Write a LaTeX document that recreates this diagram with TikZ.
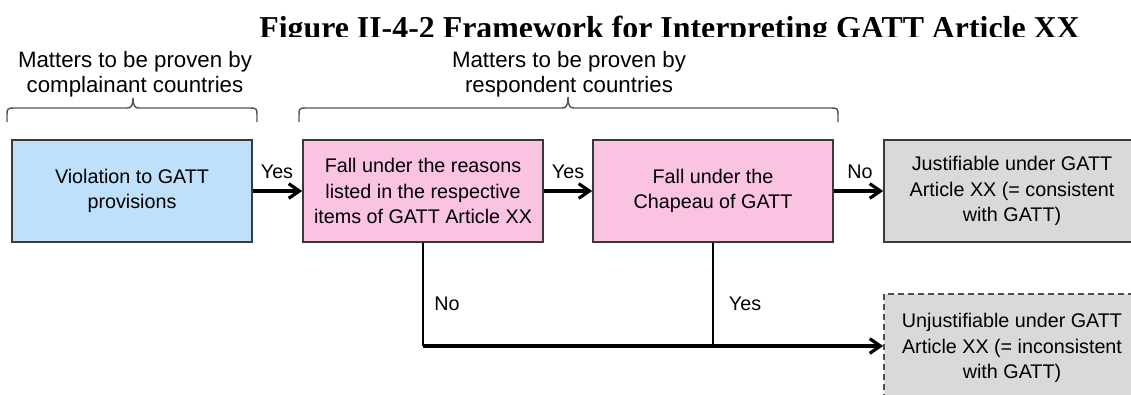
\documentclass[tikz,border=0pt]{standalone}
\usepackage{fontspec}
\setmainfont{Liberation Sans}
\newfontfamily\titlefont{Liberation Serif}
\usetikzlibrary{arrows.meta}

\definecolor{boxblue}{RGB}{190,224,250}
\definecolor{boxpink}{RGB}{250,195,225}
\definecolor{boxgray}{RGB}{217,217,217}
\definecolor{edgegray}{RGB}{58,58,58}
\definecolor{bracegray}{RGB}{85,85,85}

\begin{document}
\begin{tikzpicture}[x=0.75pt,y=-0.75pt,
  every node/.style={inner sep=0pt},
  bodyfont/.style={font=\fontsize{14.8pt}{18.9pt}\selectfont},
  stepbox/.style={bodyfont, draw=edgegray, line width=1.2pt, align=center,
    minimum width=180pt, minimum height=76.5pt},
  endbox/.style={stepbox, fill=boxgray, minimum width=192pt},
  headtext/.style={align=center, font=\fontsize{16.7pt}{19pt}\selectfont},
  flow/.style={line width=2.4pt, -{Straight Barb[length=8pt,width=11pt]}},
  link/.style={line width=2pt},
  lbl/.style={bodyfont},
  bracket/.style={draw=bracegray, line width=1.1pt}]

\useasboundingbox (0,0) rectangle (1131,394);
\clip (0,0) rectangle (1131,394);

% title, trimmed along its lower edge
\begin{scope}
  \clip (0,0) rectangle (1131,36);
  \node[anchor=base, font=\titlefont\bfseries\fontsize{23.9pt}{28pt}\selectfont]
    (title) at (669.5,38) {Figure II-4-2 Framework for Interpreting GATT Article XX};
\end{scope}

% group headings
\node[headtext] (headA) at (135,74) {Matters to be proven by\\complainant countries};
\node[headtext] (headB) at (569,74) {Matters to be proven by\\respondent countries};

% braces under the headings
\draw[bracket] (7,122) -- (7,114) .. controls (7,109) and (8,108) .. (13,108)
  -- (127,108) .. controls (131,108) and (133,106) .. (133,98)
  .. controls (133,106) and (135,108) .. (139,108)
  -- (251,108) .. controls (256,108) and (257,109) .. (257,114) -- (257,122);
\draw[bracket] (299,122) -- (299,114) .. controls (299,109) and (300,108) .. (305,108)
  -- (562,108) .. controls (566,108) and (568,106) .. (568,97)
  .. controls (568,106) and (570,108) .. (574,108)
  -- (832,108) .. controls (837,108) and (838,109) .. (838,114) -- (838,122);

% decision boxes
\node[stepbox, fill=boxblue] (viol) at (132,191) {Violation to GATT\\provisions};
\node[stepbox, fill=boxpink] (reason) at (423,191)
  {Fall under the reasons\\listed in the respective\\items of GATT Article XX};
\node[stepbox, fill=boxpink] (chapeau) at (713,191) {Fall under the\\Chapeau of GATT};
\node[endbox] (just) at (1012,191)
  {Justifiable under GATT\\Article XX (= consistent\\with GATT)};
\node[endbox, dashed, draw=edgegray!90, dash pattern=on 4.5pt off 3pt, minimum height=81pt]
  (unjust) at (1012,348)
  {Unjustifiable under GATT\\Article XX (= inconsistent\\with GATT)};

% main flow
\draw[flow] (viol) -- (reason);
\draw[flow] (reason) -- (chapeau);
\draw[flow] (chapeau) -- (just);
\node[lbl] (yesA) at (277,172) {Yes};
\node[lbl] (yesB) at (568,172) {Yes};
\node[lbl] (noA) at (860,172) {No};

% failure branch
\coordinate (joinA) at (reason.south |- 0,346);
\coordinate (joinB) at (chapeau.south |- 0,346);
\draw[link] (reason.south) -- (joinA);
\draw[link] (chapeau.south) -- (joinB);
\draw[flow] (joinA) -- (unjust.west |- joinA);
\node[lbl] (noB) at (447,304) {No};
\node[lbl] (yesC) at (745,304) {Yes};

\end{tikzpicture}
\end{document}
